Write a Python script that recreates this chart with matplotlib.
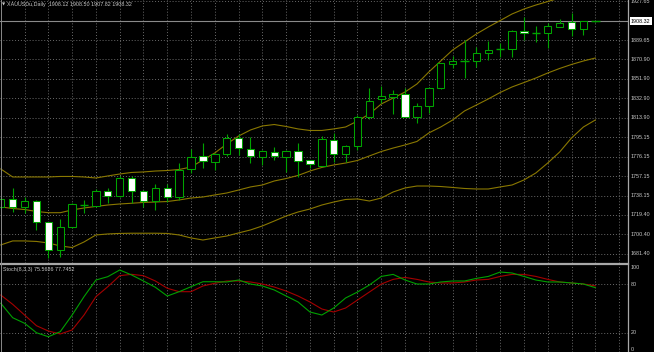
import matplotlib
matplotlib.use("Agg")
import matplotlib.pyplot as plt
from matplotlib.patches import Rectangle
from matplotlib.lines import Line2D
import matplotlib.transforms as mtransforms
import numpy as np

# ---------------- data ----------------
opens = [1727.2, 1734.7, 1727.5, 1732.7, 1712.3, 1685.3, 1707.4, 1728.6, 1728.4, 1742.8,
         1737.9, 1755.1, 1743.1, 1733.0, 1745.4, 1736.6, 1763.9, 1777.1, 1770.7, 1778.5,
         1794.1, 1783.4, 1775.6, 1780.7, 1776.2, 1781.7, 1773.0, 1767.4, 1792.4, 1778.8,
         1786.9, 1814.4, 1832.4, 1834.6, 1836.9, 1815.1, 1825.6, 1842.6, 1866.5, 1869.4,
         1869.7, 1877.5, 1880.8, 1880.8, 1898.9, 1896.4, 1896.4, 1902.8, 1906.9, 1900.3,
         1908.12]
highs = [1736.9, 1745.4, 1736.9, 1734.0, 1712.6, 1715.2, 1731.1, 1733.5, 1744.7, 1745.4,
         1757.4, 1757.4, 1743.7, 1749.6, 1749.6, 1769.7, 1783.4, 1789.5, 1779.8, 1797.8,
         1798.3, 1795.6, 1782.2, 1785.6, 1782.2, 1789.8, 1773.4, 1796.8, 1799.5, 1787.6,
         1816.8, 1842.8, 1845.0, 1841.6, 1842.8, 1828.2, 1843.6, 1867.9, 1874.3, 1889.8,
         1883.5, 1888.4, 1886.6, 1899.6, 1912.5, 1903.0, 1906.1, 1910.0, 1916.1, 1908.6,
         1908.50]
lows = [1725.2, 1722.3, 1721.3, 1704.8, 1677.0, 1678.5, 1706.7, 1721.3, 1727.2, 1730.8,
        1736.9, 1731.1, 1727.2, 1724.3, 1732.3, 1734.0, 1760.3, 1765.2, 1763.2, 1776.9,
        1777.8, 1770.0, 1768.1, 1773.4, 1761.3, 1756.7, 1764.9, 1767.1, 1771.3, 1771.3,
        1782.2, 1812.4, 1828.5, 1817.8, 1814.8, 1808.7, 1819.2, 1842.1, 1862.6, 1852.5,
        1864.0, 1870.4, 1873.6, 1873.0, 1889.8, 1888.2, 1881.8, 1902.5, 1893.7, 1894.7,
        1907.82]
closes = [1734.5, 1726.9, 1732.7, 1712.3, 1685.3, 1707.4, 1729.8, 1728.8, 1743.2, 1737.9,
          1755.7, 1743.2, 1733.0, 1745.4, 1736.6, 1763.2, 1775.6, 1771.5, 1778.8, 1794.1,
          1784.4, 1777.1, 1781.4, 1776.9, 1781.7, 1772.0, 1768.8, 1793.1, 1778.8, 1786.6,
          1815.1, 1830.4, 1835.3, 1837.2, 1815.1, 1826.0, 1842.8, 1867.1, 1869.4, 1869.6,
          1876.9, 1880.1, 1880.9, 1898.9, 1896.5, 1896.7, 1903.5, 1906.1, 1900.6, 1908.1,
          1908.32]

bb_upper = [1764.2, 1756.4, 1756.4, 1756.4, 1756.4, 1756.9, 1756.9, 1756.4, 1755.4, 1757.4,
            1759.3, 1760.8, 1761.3, 1762.2, 1762.7, 1763.7, 1766.1, 1773.0, 1779.8, 1788.5,
            1796.3, 1802.2, 1806.1, 1807.5, 1805.6, 1803.2, 1801.7, 1801.7, 1803.2, 1805.1,
            1810.9, 1817.8, 1827.5, 1833.3, 1839.2, 1847.0, 1858.7, 1869.4, 1880.1, 1887.9,
            1895.7, 1902.5, 1908.8, 1915.2, 1920.0, 1923.9, 1927.3, 1930.7, 1933.7, 1936.6,
            1939.5]
bb_middle = [1727.2, 1725.7, 1724.7, 1722.8, 1721.6, 1721.6, 1724.3, 1726.2, 1727.7, 1729.1,
             1730.1, 1730.8, 1731.6, 1732.0, 1732.5, 1734.0, 1735.9, 1736.9, 1738.9, 1740.8,
             1743.7, 1746.7, 1748.6, 1752.5, 1754.9, 1757.9, 1762.2, 1765.7, 1768.1, 1770.0,
             1772.5, 1776.9, 1781.2, 1784.6, 1787.6, 1791.0, 1799.3, 1805.1, 1811.9, 1820.7,
             1826.5, 1832.4, 1838.7, 1844.1, 1848.4, 1852.8, 1857.7, 1862.1, 1866.0, 1869.4,
             1872.3]
bb_lower = [1690.2, 1694.1, 1694.1, 1693.6, 1692.1, 1689.2, 1687.7, 1693.1, 1699.9, 1700.9,
            1701.4, 1701.6, 1701.6, 1701.6, 1701.4, 1699.9, 1697.0, 1695.0, 1697.0, 1698.9,
            1701.9, 1704.8, 1708.7, 1713.5, 1718.4, 1722.3, 1725.2, 1729.1, 1732.0, 1734.5,
            1735.0, 1733.0, 1735.9, 1741.8, 1745.7, 1747.6, 1747.6, 1747.1, 1746.2, 1745.2,
            1744.7, 1744.7, 1746.7, 1748.6, 1753.5, 1760.3, 1770.0, 1780.7, 1794.4, 1805.1,
            1811.9]

stoch_main = [56.4, 38.7, 31.9, 20.3, 15.4, 21.6, 42.0, 64.5, 84.9, 89.0,
              97.2, 91.1, 83.7, 76.0, 65.3, 70.6, 76.7, 82.8, 82.8, 82.5,
              84.9, 80.0, 77.6, 72.7, 65.3, 58.0, 45.7, 42.0, 50.6, 62.9,
              70.2, 78.8, 89.3, 91.8, 84.9, 80.0, 80.0, 82.5, 83.7, 83.7,
              86.9, 89.3, 94.7, 93.5, 89.3, 84.9, 82.5, 82.5, 81.3, 80.0,
              75.5686]
stoch_signal = [66.5, 55.1, 42.0, 28.9, 22.4, 18.8, 23.7, 42.0, 64.5, 76.7,
                90.2, 91.9, 90.2, 83.7, 74.8, 70.6, 70.6, 77.6, 80.9, 83.7,
                83.7, 82.5, 80.0, 76.3, 71.4, 65.3, 58.0, 49.4, 45.7, 50.6,
                60.4, 70.2, 80.0, 85.7, 88.1, 85.7, 82.5, 81.3, 81.3, 82.5,
                84.9, 85.7, 89.3, 91.8, 91.8, 89.3, 85.7, 82.5, 81.3, 80.0,
                77.7452]

price_levels = [1927.65, 1908.65, 1889.65, 1870.90, 1851.90, 1832.90, 1813.90,
                1795.15, 1776.15, 1757.15, 1738.15, 1719.40, 1700.40, 1681.40]
price_labels = ["1927.65", None, "1889.65", "1870.90", "1851.90", "1832.90", "1813.90",
                "1795.15", "1776.15", "1757.15", "1738.15", "1719.40", "1700.40", "1681.40"]
stoch_levels = [100, 80, 20, 0]
bid_price = 1908.32
title_text = "XAUUSDu,Daily  1908.12 1908.50 1907.82 1908.32"
stoch_text = "Stoch(8,3,3) 75.5686 77.7452"

# ---------------- styling ----------------
W, H = 654, 352
GREEN = '#00a400'
BAND = '#8a7800'
GRID = '#6a6a6a'
TXT = '#c8c8c8'
FONT = ['Liberation Sans', 'DejaVu Sans']
FS = 3.9

fig = plt.figure(figsize=(W / 100, H / 100), dpi=100, facecolor='black')

def fx(px):
    return px / W

def fy(py):
    return 1 - py / H

main_bottom_px = 263
ax = fig.add_axes([0, fy(main_bottom_px), fx(628), main_bottom_px / H])
ax.set_facecolor('black')
ax.set_xlim(-0.067, 52.75)
ax.set_ylim(1672.6, 1928.8)
ax.axis('off')

n = len(opens)
xs = np.arange(n)
grid_x = np.arange(2, 53, 2)

dotted = (0, (1, 2))
for g in grid_x:
    ax.axvline(g, color=GRID, lw=0.7, ls=dotted, zorder=0)
for p in price_levels:
    ax.axhline(p, color=GRID, lw=0.7, ls=dotted, zorder=0)

# bid line
ax.axhline(bid_price, color='#8a8a8a', lw=0.8, zorder=1)

# bands
ax.plot(xs, bb_upper, color=BAND, lw=0.8, zorder=2)
ax.plot(xs, bb_middle, color=BAND, lw=0.8, zorder=2)
ax.plot(xs, bb_lower, color=BAND, lw=0.8, zorder=2)

# candles
bw = 0.62
ax.vlines(xs, lows, highs, color=GREEN, lw=0.8, zorder=3)
for i in range(n):
    o, c = opens[i], closes[i]
    bottom = min(o, c)
    h = abs(c - o)
    face = 'black' if c >= o else 'white'
    if h < 0.6:
        ax.hlines((o + c) / 2, i - bw / 2 - 0.05, i + bw / 2 + 0.05,
                  color=GREEN if c >= o else 'white', lw=1.0, zorder=4)
    else:
        ax.add_patch(Rectangle((i - bw / 2, bottom), bw, h, facecolor=face,
                               edgecolor=GREEN, lw=0.75, zorder=4))

# price labels
trans = mtransforms.blended_transform_factory(ax.transAxes, ax.transData)
for p, lab in zip(price_levels, price_labels):
    if lab is None:
        continue
    ax.text(631 / 628, p, lab, transform=trans, ha='left', va='center', color=TXT,
            fontsize=FS, family=FONT, clip_on=False)
ax.text(631 / 628, bid_price, f"{bid_price:.2f}", transform=trans, ha='left', va='center',
        color='black', fontsize=FS, family=FONT, clip_on=False,
        bbox=dict(facecolor='white', edgecolor='none', pad=0.8))

# title
fig.text(fx(2), fy(4.5), "\u25bc", color=TXT, fontsize=3.0, family=['DejaVu Sans'],
         va='center', ha='left')
fig.text(fx(7), fy(4.5), title_text, color=TXT, fontsize=FS, family=FONT,
         va='center', ha='left')

# ---------------- stochastic panel ----------------
ax2 = fig.add_axes([0, 0, fx(628), 86 / H])
ax2.set_facecolor('black')
ax2.set_xlim(-0.067, 52.75)
ax2.set_ylim(-3.31, 102.08)
ax2.axis('off')
for g in grid_x:
    ax2.axvline(g, color=GRID, lw=0.7, ls=dotted, zorder=0)
for lv in (80, 20):
    ax2.axhline(lv, color=GRID, lw=0.7, ls=dotted, zorder=0)
ax2.plot(xs, stoch_signal, color='#a40000', lw=0.8, zorder=2)
ax2.plot(xs, stoch_main, color='#00a000', lw=0.8, zorder=3)
trans2 = mtransforms.blended_transform_factory(ax2.transAxes, ax2.transData)
for lv in stoch_levels:
    ax2.text(631 / 628, lv, str(lv), transform=trans2, ha='left', va='center', color=TXT,
             fontsize=FS, family=FONT, clip_on=False)
fig.text(fx(3), fy(269.5), stoch_text, color=TXT, fontsize=FS, family=FONT,
         va='center', ha='left')

# separators / borders
fig.add_artist(Line2D([0, fx(628)], [fy(264.3), fy(264.3)], color='#a8a8a8', lw=1.6))
fig.add_artist(Line2D([fx(627.8), fx(627.8)], [0, 1], color='#a8a8a8', lw=0.9))
fig.add_artist(Line2D([fx(0.5), fx(0.5)], [0, 1], color='#8a8a8a', lw=0.7))

fig.savefig('out.png', dpi=100, facecolor='black')
